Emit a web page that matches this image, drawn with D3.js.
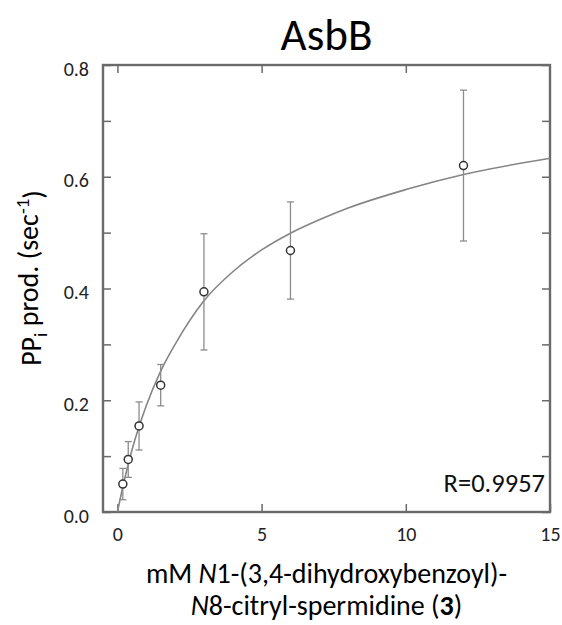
<!DOCTYPE html>
<html>
<head>
<meta charset="utf-8">
<script src="https://cdn.jsdelivr.net/npm/d3@7"></script>
<style>
  body { margin: 0; background: #fff; }
  svg { font-family: Carlito, Lato, sans-serif; }
</style>
</head>
<body>
<svg width="562" height="625"></svg>
<script>
// measured points (mM substrate vs PPi rate)
var conc = [0.1875, 0.375, 0.75, 1.5, 3, 6, 12];
var rate = [0.050, 0.094, 0.154, 0.227, 0.394, 0.468, 0.620];
var err = [0.028, 0.032, 0.043, 0.037, 0.104, 0.087, 0.135];

// fitted curve
var fitX = [0, 0.25, 0.5, 1, 1.5, 2, 3, 4, 5, 6, 7, 8, 10, 12, 15];
var fitY = [0, 0.059, 0.110, 0.190, 0.252, 0.300, 0.378, 0.430, 0.469, 0.499, 0.523, 0.544, 0.577, 0.604, 0.633];

var xTicks = [0, 5, 10, 15];
var yTicks = [0, 0.1, 0.2, 0.3, 0.4, 0.5, 0.6, 0.7, 0.8];

var svg = d3.select("svg"),
  margin = {top: 65, right: 12, bottom: 113, left: 103},
  width = +svg.attr("width") - margin.left - margin.right,
  height = +svg.attr("height") - margin.top - margin.bottom;

var x = d3.scaleLinear().domain([-0.5, 15]).range([0, width]);
var y = d3.scaleLinear().domain([0, 0.8]).range([height, 0]);

var g = svg.append("g")
  .attr("transform", "translate(" + margin.left + "," + margin.top + ")");

var axisColor = "#6a6a6a";

// axes, ticks pointing inward
var axBottom = g.append("g")
  .attr("transform", "translate(0," + height + ")")
  .call(d3.axisBottom(x).tickValues(xTicks).tickSize(-8).tickPadding(12).tickFormat(d3.format("d")));

var axTop = g.append("g")
  .call(d3.axisTop(x).tickValues(xTicks.slice(0, 3)).tickSize(-8).tickFormat(""));

var axLeft = g.append("g")
  .call(d3.axisLeft(y).tickValues(yTicks).tickSize(-8).tickPadding(14)
    .tickFormat(function(d) { return Math.round(d * 10) % 2 == 0 ? d3.format(".1f")(d) : ""; }));

var axRight = g.append("g")
  .attr("transform", "translate(" + width + ",0)")
  .call(d3.axisRight(y).tickValues(yTicks).tickSize(-8).tickFormat(""));

[axBottom, axTop, axLeft, axRight].forEach(function(a) {
  a.attr("font-family", null).attr("font-size", null);
  a.select(".domain").remove();
  a.selectAll(".tick line").attr("stroke", axisColor).attr("stroke-width", 1.5);
  a.selectAll(".tick text").attr("fill", "#222").style("font-size", "20px");
});
axBottom.selectAll(".tick text").attr("dy", "0.85em");
axLeft.selectAll(".tick text").attr("dy", "0.5em");

// frame
g.append("rect")
  .attr("width", width)
  .attr("height", height)
  .attr("fill", "none")
  .attr("stroke", axisColor)
  .attr("stroke-width", 2.4);

// fit curve
var line = d3.line()
  .x(function(d, i) { return x(fitX[i]); })
  .y(function(d) { return y(d); })
  .curve(d3.curveMonotoneX);

g.append("path")
  .datum(fitY)
  .attr("fill", "none")
  .attr("stroke", "#858585")
  .attr("stroke-width", 1.6)
  .attr("d", line);

// error bars
var bars = g.selectAll(".err")
  .data(conc)
  .enter()
  .append("g")
  .attr("class", "err")
  .attr("stroke", "#8c8c8c")
  .attr("stroke-width", 1.3);

bars.append("line")
  .attr("x1", function(d) { return x(d); })
  .attr("x2", function(d) { return x(d); })
  .attr("y1", function(d, i) { return y(rate[i] + err[i]); })
  .attr("y2", function(d, i) { return y(rate[i] - err[i]); });

bars.append("line")
  .attr("x1", function(d) { return x(d) - 3.5; })
  .attr("x2", function(d) { return x(d) + 3.5; })
  .attr("y1", function(d, i) { return y(rate[i] + err[i]); })
  .attr("y2", function(d, i) { return y(rate[i] + err[i]); });

bars.append("line")
  .attr("x1", function(d) { return x(d) - 3.5; })
  .attr("x2", function(d) { return x(d) + 3.5; })
  .attr("y1", function(d, i) { return y(rate[i] - err[i]); })
  .attr("y2", function(d, i) { return y(rate[i] - err[i]); });

// points
g.selectAll("circle")
  .data(conc)
  .enter()
  .append("circle")
  .attr("r", 4)
  .attr("cx", function(d) { return x(d); })
  .attr("cy", function(d, i) { return y(rate[i]); })
  .attr("fill", "#fff")
  .attr("stroke", "#333")
  .attr("stroke-width", 1.5);

// R value
g.append("text")
  .attr("x", width - 5)
  .attr("y", height - 20)
  .attr("text-anchor", "end")
  .attr("fill", "#111")
  .style("font-size", "26.5px")
  .text("R=0.9957");

// title
svg.append("text")
  .attr("x", margin.left + width / 2)
  .attr("y", 50)
  .attr("text-anchor", "middle")
  .attr("fill", "#000")
  .style("font-size", "45px")
  .text("AsbB");

// y axis label
var yl = svg.append("text")
  .attr("transform", "translate(41,278) rotate(-90)")
  .attr("text-anchor", "middle")
  .attr("fill", "#000")
  .style("font-size", "28px");
yl.append("tspan").text("PP");
yl.append("tspan").attr("dy", "0.3em").style("font-size", "19px").text("i");
yl.append("tspan").attr("dy", "-0.3em").text(" prod. (sec");
yl.append("tspan").attr("dy", "-0.5em").style("font-size", "19px").text("-1");
yl.append("tspan").attr("dy", "0.5em").text(")");

// x axis label
var xl1 = svg.append("text")
  .attr("x", margin.left + width / 2)
  .attr("y", 583)
  .attr("text-anchor", "middle")
  .attr("fill", "#000")
  .style("font-size", "28px");
xl1.append("tspan").text("mM ");
xl1.append("tspan").style("font-style", "italic").text("N");
xl1.append("tspan").text("1-(3,4-dihydroxybenzoyl)-");

var xl2 = svg.append("text")
  .attr("x", margin.left + width / 2)
  .attr("y", 615)
  .attr("text-anchor", "middle")
  .attr("fill", "#000")
  .style("font-size", "28px");
xl2.append("tspan").style("font-style", "italic").text("N");
xl2.append("tspan").text("8-citryl-spermidine (");
xl2.append("tspan").style("font-weight", "bold").text("3");
xl2.append("tspan").text(")");
</script>
</body>
</html>
